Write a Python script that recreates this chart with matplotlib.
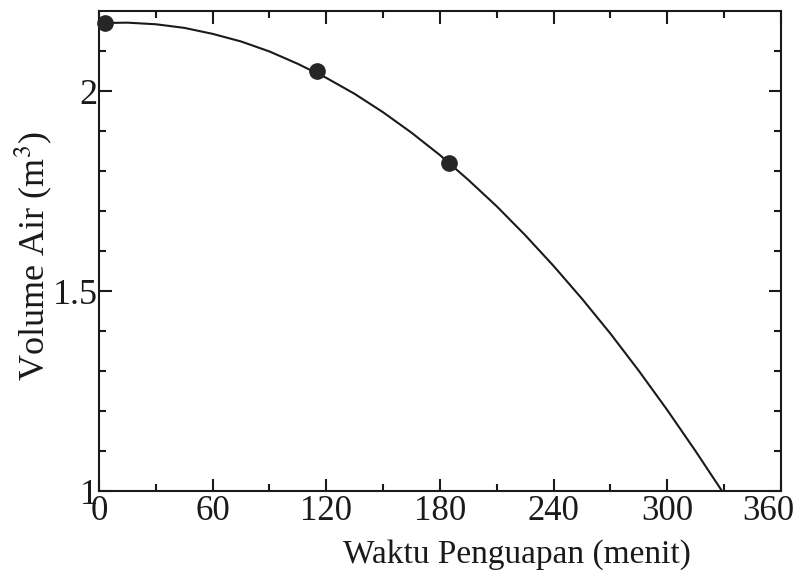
import matplotlib
matplotlib.use("Agg")
import matplotlib.pyplot as plt
import matplotlib.transforms as mtransforms
from matplotlib.ticker import MultipleLocator, FixedLocator

plt.rcParams["font.family"] = ["Liberation Serif", "DejaVu Serif"]
plt.rcParams["mathtext.fontset"] = "stix"

# curve (menit, m^3)
curve_t = [0, 15, 30, 45, 60, 75, 90, 105, 120, 135, 150, 165, 180,
           195, 210, 225, 240, 255, 270, 285, 300, 315, 329]
curve_v = [2.170, 2.171, 2.167, 2.158, 2.143, 2.124, 2.099, 2.068, 2.033,
           1.993, 1.947, 1.896, 1.840, 1.778, 1.712, 1.640, 1.563, 1.481,
           1.394, 1.301, 1.203, 1.100, 1.000]

# measured points
point_t = [3, 115, 185]
point_v = [2.17, 2.05, 1.82]

x_ticks = [0, 60, 120, 180, 240, 300, 360]
y_ticks = [1, 1.5, 2]
y_labels = ["1", "1.5", "2"]

fig = plt.figure(figsize=(8.05, 5.82), dpi=100)
ax = fig.add_axes([0.123, 0.156, 0.847, 0.825])

ax.plot(curve_t, curve_v, color="#1a1a1a", lw=1.5, zorder=2)
ax.plot(point_t, point_v, "o", color="#262626", ms=11, zorder=3, clip_on=False)

ax.set_xlim(0, 360)
ax.set_ylim(1, 2.2)
ax.set_xticks(x_ticks)
ax.set_yticks(y_ticks)
ax.set_yticklabels(y_labels)
ax.xaxis.set_minor_locator(MultipleLocator(30))
ax.yaxis.set_minor_locator(FixedLocator([1.1, 1.2, 1.3, 1.4, 1.6, 1.7, 1.8, 1.9, 2.1]))

ax.tick_params(which="both", direction="in", top=True, right=True, width=1.5, colors="#1a1a1a")
ax.tick_params(which="major", length=9)
ax.tick_params(axis="x", which="major", pad=3, labelsize=25)
ax.tick_params(axis="y", which="major", pad=1, labelsize=26)
ax.tick_params(which="minor", length=5)
for s in ax.spines.values():
    s.set_linewidth(1.5)
    s.set_color("#1a1a1a")

# nudge the last x label inwards a little, as in the scan
last = ax.get_xticklabels()[-1]
last.set_transform(last.get_transform() + mtransforms.ScaledTranslation(-9 / 72, 0, fig.dpi_scale_trans))

ax.set_xlabel("Waktu Penguapan (menit)", fontsize=24, color="#1a1a1a")
ax.xaxis.set_label_coords(0.613, -0.10)
ax.set_ylabel(r"Volume Air (m$^3$)", fontsize=26, color="#1a1a1a")
ax.yaxis.set_label_coords(-0.066, 0.49)

fig.savefig("out.png", dpi=100)
